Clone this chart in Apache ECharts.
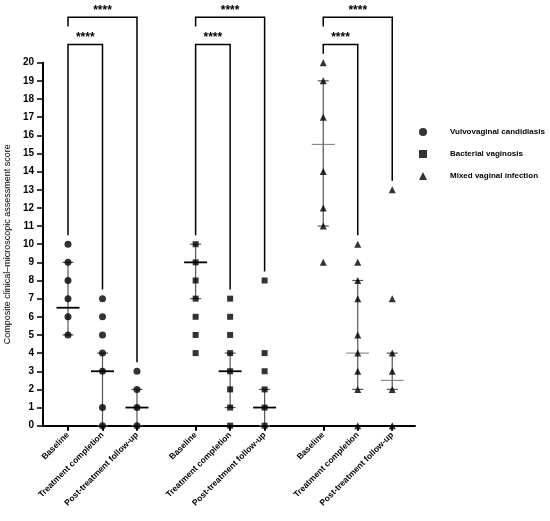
<!DOCTYPE html>
<html>
<head>
<meta charset="utf-8">
<script src="https://cdn.jsdelivr.net/npm/echarts@6/dist/echarts.min.js"></script>
<style>html,body{margin:0;padding:0;background:#fff}#c{width:550px;height:521px}</style>
</head>
<body>
<div id="c"></div>
<script>
// ---- data ----
const timepoints = ['Baseline', 'Treatment completion', 'Post-treatment follow-up'];
const groups = ['Vulvovaginal candidiasis', 'Bacterial vaginosis', 'Mixed vaginal infection'];
const yTicks = [0, 20, 1]; // min, max, interval

const vvcScores = [[10, 9, 8, 7, 6, 5], [7, 6, 5, 4, 3, 1, 0], [3, 2, 1, 0]];
const bvScores = [[10, 9, 8, 7, 6, 5, 4], [7, 6, 5, 4, 3, 2, 1, 0], [8, 4, 3, 2, 1, 0]];
const mviScores = [[20, 19, 17, 14, 12, 11, 9], [10, 9, 8, 7, 5, 4, 3, 2, 0], [13, 7, 4, 3, 2, 0]];

const vvcMedian = [6.5, 3, 1], vvcQ1 = [5, 0, 0], vvcQ3 = [9, 4, 2];
const bvMedian = [9, 3, 1], bvQ1 = [7, 1, 0], bvQ3 = [10, 4, 2];
const mviMedian = [15.5, 4, 2.5], mviQ1 = [11, 2, 2], mviQ3 = [19, 8, 4];

const sigLabels = ['****', '****']; // baseline vs treatment, baseline vs post
const bracketLevels = [21, 22.5];

// ---- build ----
const GROUP_GAP = 0.7;
const pos = (g, t) => g * (timepoints.length + GROUP_GAP) + t;
const allScores = [vvcScores, bvScores, mviScores];
const allMed = [vvcMedian, bvMedian, mviMedian];
const allQ1 = [vvcQ1, bvQ1, mviQ1];
const allQ3 = [vvcQ3, bvQ3, mviQ3];
const symbols = ['circle', 'rect', 'triangle'];
const symSizes = [7, 6, 7];

const tickPos = [], tickName = [];
groups.forEach((g, gi) => timepoints.forEach((t, ti) => { tickPos.push(pos(gi, ti)); tickName.push(t); }));

const series = [];
groups.forEach((name, gi) => {
  const pts = [];
  allScores[gi].forEach((arr, ti) => arr.forEach(v => pts.push([pos(gi, ti), v])));
  series.push({
    name, type: 'scatter', symbol: symbols[gi], symbolSize: symSizes[gi],
    itemStyle: { color: '#000' }, data: pts, z: 5
  });
  const eb = timepoints.map((t, ti) => [pos(gi, ti), allQ1[gi][ti], allMed[gi][ti], allQ3[gi][ti]]);
  const thin = gi === 2;
  series.push({
    type: 'custom', z: 3, silent: true,
    encode: { x: 0, y: [1, 2, 3] },
    data: eb,
    renderItem: (params, api) => {
      const x = api.value(0);
      const p1 = api.coord([x, api.value(1)]);
      const pm = api.coord([x, api.value(2)]);
      const p3 = api.coord([x, api.value(3)]);
      const lineC = '#555';
      return {
        type: 'group', children: [
          { type: 'line', shape: { x1: p1[0], y1: p1[1], x2: p3[0], y2: p3[1] }, style: { stroke: lineC, lineWidth: 1.2 } },
          { type: 'line', shape: { x1: p1[0] - 5.5, y1: p1[1], x2: p1[0] + 5.5, y2: p1[1] }, style: { stroke: lineC, lineWidth: 1.2 } },
          { type: 'line', shape: { x1: p3[0] - 5.5, y1: p3[1], x2: p3[0] + 5.5, y2: p3[1] }, style: { stroke: lineC, lineWidth: 1.2 } },
          { type: 'line', shape: { x1: pm[0] - 11.5, y1: pm[1], x2: pm[0] + 11.5, y2: pm[1] }, style: { stroke: thin ? '#777' : '#000', lineWidth: thin ? 1 : 1.8 } }
        ]
      };
    }
  });
  const maxs = allScores[gi].map(a => Math.max(...a));
  const brackets = [
    [pos(gi, 0), pos(gi, 1), bracketLevels[0], maxs[0] + 0.5, maxs[1] + 0.5, 0],
    [pos(gi, 0), pos(gi, 2), bracketLevels[1], bracketLevels[1] - 0.5, maxs[2] + 0.5, 1]
  ];
  series.push({
    type: 'custom', z: 4, silent: true, clip: false,
    encode: { x: [0, 1], y: [2, 3, 4] },
    data: brackets,
    renderItem: (params, api) => {
      const xl = api.value(0), xr = api.value(1), lv = api.value(2);
      const a = api.coord([xl, api.value(3)]);
      const b = api.coord([xl, lv]);
      const c = api.coord([xr, lv]);
      const d = api.coord([xr, api.value(4)]);
      return {
        type: 'group', children: [
          { type: 'polyline', shape: { points: [a, b, c, d] }, style: { stroke: '#000', lineWidth: 1.5, fill: null } },
          { type: 'text', style: { text: sigLabels[api.value(5)], x: (b[0] + c[0]) / 2, y: b[1] - 1, align: 'center', verticalAlign: 'bottom', font: 'bold 12px "Liberation Sans", Arial, sans-serif', fill: '#000' } }
        ]
      };
    }
  });
});

const chart = echarts.init(document.getElementById('c'));
chart.setOption({
  animation: false,
  textStyle: { fontFamily: '"Liberation Sans", Arial, sans-serif' },
  grid: { left: 43, right: 135, top: 62.7, bottom: 95.3, outerBoundsMode: 'none', containLabel: false },
  legend: {
    data: groups, orient: 'vertical', left: 414, top: 123,
    itemWidth: 8, itemHeight: 8, itemGap: 14,
    textStyle: { fontSize: 8, fontWeight: 'bold', color: '#000', padding: [0, 0, 0, 18], overflow: 'none' }
  },
  xAxis: {
    type: 'value', min: -0.725, max: 10.06,
    splitLine: { show: false },
    axisLine: { onZero: false, lineStyle: { color: '#000', width: 2 } },
    axisTick: { customValues: tickPos, length: 5, lineStyle: { color: '#000', width: 2 } },
    axisLabel: {
      customValues: tickPos, rotate: 45, margin: 8, fontSize: 8.5, fontWeight: 'bold', color: '#000',
      formatter: v => { const i = tickPos.findIndex(p => Math.abs(p - v) < 1e-6); return i >= 0 ? tickName[i] : ''; }
    }
  },
  yAxis: {
    type: 'value', min: yTicks[0], max: yTicks[1], interval: yTicks[2],
    name: 'Composite clinical–microscopic assessment score',
    nameLocation: 'middle', nameGap: 31,
    nameTextStyle: { fontSize: 9, color: '#000' },
    splitLine: { show: false },
    axisLine: { show: true, onZero: false, lineStyle: { color: '#000', width: 2 } },
    axisTick: { show: true, length: 6, lineStyle: { color: '#000', width: 1.5 } },
    axisLabel: { fontSize: 10, fontWeight: 'bold', color: '#000', margin: 9 }
  },
  series
});
</script>
</body>
</html>
